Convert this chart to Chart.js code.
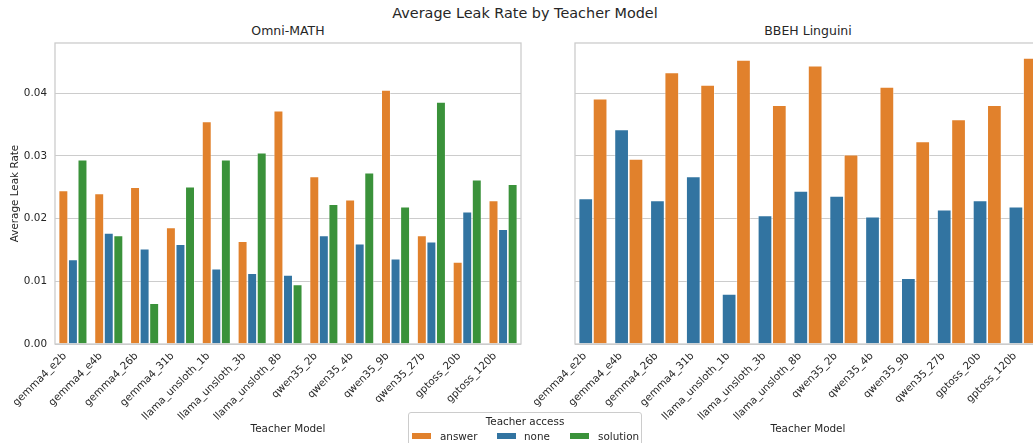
<!DOCTYPE html>
<html>
<head>
<meta charset="utf-8">
<script src="https://cdn.jsdelivr.net/npm/chart.js@4.4.1/dist/chart.umd.min.js"></script>
<style>
  html, body { margin: 0; padding: 0; background: #ffffff; }
  body { width: 1033px; height: 443px; overflow: hidden; position: relative; font-family: "DejaVu Sans", sans-serif; color: #262626; }
  canvas { position: absolute; top: 0; }
  .txt { position: absolute; white-space: nowrap; transform: translate(-50%, -50%); }
  #legend { position: absolute; left: 408px; top: 412px; width: 234px; height: 40px; border: 1px solid #cccccc; border-radius: 3px; background: rgba(255,255,255,0.8); box-sizing: border-box; font-size: 10.4px; }
  #legend .patch { position: absolute; width: 19px; height: 6px; top: 20px; }
  #legend .lab { position: absolute; top: 17px; line-height: 12px; }
</style>
</head>
<body>
<div class="txt" style="left:525px; top:13px; font-size:14.4px;">Average Leak Rate by Teacher Model</div>
<div class="txt" style="left:288px; top:30px; font-size:12.5px;">Omni-MATH</div>
<div class="txt" style="left:808px; top:30px; font-size:12.5px;">BBEH Linguini</div>

<canvas id="left" width="530" height="443" style="left:0px;"></canvas>
<canvas id="right" width="530" height="443" style="left:520px;"></canvas>

<div id="legend">
  <div style="position:absolute; left:0; right:0; top:2px; text-align:center; font-size:10.4px;">Teacher access</div>
  <div class="patch" style="left:3px; background:#e1812c;"></div>
  <div class="lab" style="left:31px;">answer</div>
  <div class="patch" style="left:88px; background:#3274a1;"></div>
  <div class="lab" style="left:115px;">none</div>
  <div class="patch" style="left:161px; background:#3a923a;"></div>
  <div class="lab" style="left:189px;">solution</div>
</div>

<script>
// Teacher models on the x axis
const categories = [
  "gemma4_e2b", "gemma4_e4b", "gemma4_26b", "gemma4_31b",
  "llama_unsloth_1b", "llama_unsloth_3b", "llama_unsloth_8b",
  "qwen35_2b", "qwen35_4b", "qwen35_9b", "qwen35_27b",
  "gptoss_20b", "gptoss_120b"
];

// Omni-MATH leak rates per teacher access
const omniAnswer   = [0.0245, 0.0240, 0.0250, 0.0186, 0.0355, 0.0164, 0.0372, 0.0267, 0.0230, 0.0405, 0.0173, 0.0131, 0.0229];
const omniNone     = [0.0135, 0.0177, 0.0152, 0.0159, 0.0120, 0.0113, 0.0110, 0.0173, 0.0160, 0.0136, 0.0163, 0.0211, 0.0183];
const omniSolution = [0.0294, 0.0173, 0.0065, 0.0251, 0.0294, 0.0305, 0.0095, 0.0223, 0.0273, 0.0219, 0.0386, 0.0262, 0.0255];

// BBEH Linguini leak rates (no solution access here)
const linguiniNone   = [0.0232, 0.0342, 0.0229, 0.0267, 0.0080, 0.0205, 0.0244, 0.0236, 0.0203, 0.0105, 0.0214, 0.0229, 0.0219];
const linguiniAnswer = [0.0391, 0.0295, 0.0433, 0.0413, 0.0453, 0.0381, 0.0444, 0.0302, 0.0410, 0.0323, 0.0358, 0.0381, 0.0456];

const yTicks = [0, 0.01, 0.02, 0.03, 0.04];
const yMax = 0.048;

const colors = { answer: "#e1812c", none: "#3274a1", solution: "#3a923a" };
const FONT = "DejaVu Sans";
const TEXT = "#262626";
const GRID = "#cccccc";

// draws the four spines round the plot area
const framePlugin = {
  id: "frame",
  afterDatasetsDraw(chart) {
    const { ctx, chartArea: a } = chart;
    ctx.save();
    ctx.strokeStyle = GRID;
    ctx.lineWidth = 1.3;
    ctx.strokeRect(a.left, a.top, a.right - a.left, a.bottom - a.top);
    ctx.restore();
  }
};

const makeDataset = (label, data) => ({
  label: label,
  data: data,
  backgroundColor: colors[label],
  borderColor: "rgba(255,255,255,0.55)",
  borderWidth: 0.8,
  categoryPercentage: 0.8,
  barPercentage: 1.0
});

const createChart = (canvas, datasets, showY) => {
  return new Chart(canvas.getContext("2d"), {
    type: "bar",
    data: { labels: categories, datasets: datasets },
    plugins: [framePlugin],
    options: {
      responsive: false,
      animation: false,
      layout: { padding: { left: 0, right: 9, top: 43, bottom: 0 } },
      plugins: {
        legend: { display: false },
        title: { display: false },
        tooltip: { enabled: false }
      },
      scales: {
        x: {
          grid: { display: false, drawTicks: false },
          border: { display: false },
          ticks: {
            autoSkip: false,
            minRotation: 45,
            maxRotation: 45,
            padding: 6,
            labelOffset: -8,
            color: TEXT,
            font: { family: FONT, size: 10.4 }
          },
          title: {
            display: true,
            text: "Teacher Model",
            color: TEXT,
            font: { family: FONT, size: 10.4 },
            padding: { top: 0, bottom: 7 }
          },
          afterFit: (scale) => { scale.height = 99; }
        },
        y: {
          min: 0,
          max: yMax,
          grid: { color: GRID, lineWidth: 1, drawTicks: false },
          border: { display: false },
          afterBuildTicks: (scale) => { scale.ticks = yTicks.map(v => ({ value: v })); },
          ticks: {
            display: showY,
            padding: 8,
            color: TEXT,
            font: { family: FONT, size: 10.4 },
            callback: (value) => Number(value).toFixed(2)
          },
          title: {
            display: showY,
            text: "Average Leak Rate",
            color: TEXT,
            font: { family: FONT, size: 10.4 },
            padding: { top: 9, bottom: 0 }
          },
          afterFit: (scale) => { scale.width = 55; }
        }
      }
    }
  });
};

createChart(document.getElementById("left"), [
  makeDataset("answer", omniAnswer),
  makeDataset("none", omniNone),
  makeDataset("solution", omniSolution)
], true);

createChart(document.getElementById("right"), [
  makeDataset("none", linguiniNone),
  makeDataset("answer", linguiniAnswer)
], false);
</script>
</body>
</html>
